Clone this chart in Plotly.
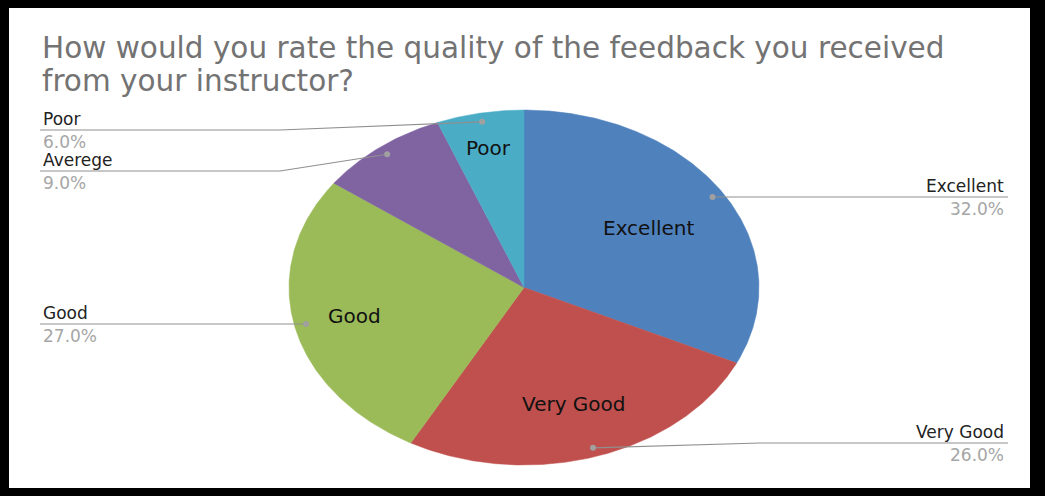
import numpy as np
import plotly.graph_objects as go

# Survey responses
categories = ["Excellent", "Very Good", "Good", "Averege", "Poor"]
shares = [32.0, 26.0, 27.0, 9.0, 6.0]

title_lines = [
    "How would you rate the quality of the feedback you received",
    "from your instructor?",
]

# Styling
slice_colors = ["#4f81bd", "#c0504d", "#9bbb59", "#8064a2", "#4bacc6"]
inside_label_radius = [0.63, 0.69, 0.74, None, 0.80]   # None: no label inside the slice
label_side = ["right", "right", "left", "left", "left"]
label_row_y = [197, 443, 324, 171, 130]                # y of the leader line under each label
elbow_x = [None, 760, None, 280, 280]                  # where the leader line turns horizontal

W, H = 1045, 496
CX, CY, RX, RY = 524, 287.5, 235, 177.5                # pie drawn as a horizontally stretched disc
LEFT_X, RIGHT_X = 40, 1008
FONT = "DejaVu Sans"
LINE_COLOR = "#8f8f8f"

total = sum(shares)
cum = np.concatenate([[0.0], np.cumsum(shares) / total])


def ellipse_point(t, r=1.0):
    """Point on the stretched pie at clockwise angle t (radians from 12 o'clock)."""
    return CX + r * RX * np.sin(t), CY - r * RY * np.cos(t)


fig = go.Figure()

# Pie slices
for i, cat in enumerate(categories):
    t = np.linspace(cum[i], cum[i + 1], 240) * 2 * np.pi
    ex, ey = ellipse_point(t)
    fig.add_trace(go.Scatter(
        x=np.concatenate([[CX], ex, [CX]]),
        y=np.concatenate([[CY], ey, [CY]]),
        mode="lines", fill="toself",
        fillcolor=slice_colors[i],
        line=dict(color=slice_colors[i], width=0.5),
        name=cat, hoverinfo="skip", showlegend=False,
    ))

annotations = []

# Labels inside the slices
for i, cat in enumerate(categories):
    r = inside_label_radius[i]
    if r is None:
        continue
    mid = (cum[i] + cum[i + 1]) / 2 * 2 * np.pi
    lx, ly = ellipse_point(mid, r)
    annotations.append(dict(
        x=lx, y=ly, text=cat, showarrow=False, xanchor="center", yanchor="middle",
        font=dict(family=FONT, size=20, color="#111111"),
    ))

# Leader lines, anchor dots and outside labels
for i, cat in enumerate(categories):
    mid = (cum[i] + cum[i + 1]) / 2 * 2 * np.pi
    dx, dy = ellipse_point(mid, 0.95)
    row = label_row_y[i]
    end_x = RIGHT_X if label_side[i] == "right" else LEFT_X
    px, py = [dx], [dy]
    if elbow_x[i] is not None:
        px.append(elbow_x[i]); py.append(row)
    else:
        py[0] = row
    px.append(end_x); py.append(row)
    fig.add_trace(go.Scatter(
        x=px, y=py, mode="lines", line=dict(color=LINE_COLOR, width=1.2),
        hoverinfo="skip", showlegend=False,
    ))
    fig.add_trace(go.Scatter(
        x=[px[0]], y=[py[0]], mode="markers",
        marker=dict(color="#a0a0a0", size=6), hoverinfo="skip", showlegend=False,
    ))
    anchor = "right" if label_side[i] == "right" else "left"
    text_x = end_x - 2 if anchor == "right" else end_x + 1
    annotations.append(dict(
        x=text_x, y=row - 11, text=cat, showarrow=False, xanchor=anchor, yanchor="middle",
        font=dict(family=FONT, size=17, color="#222222"),
    ))
    annotations.append(dict(
        x=text_x, y=row + 12, text=f"{shares[i] / total * 100:.1f}%", showarrow=False,
        xanchor=anchor, yanchor="middle",
        font=dict(family=FONT, size=17, color="#a6a6a6"),
    ))

# Title, two lines
for k, line in enumerate(title_lines):
    annotations.append(dict(
        x=LEFT_X, y=48 + 33 * k, text=line, showarrow=False, xanchor="left", yanchor="middle",
        font=dict(family=FONT, size=29.5, color="#737373"),
    ))

fig.update_layout(
    width=W, height=H,
    margin=dict(l=9, r=15, t=8, b=8),
    paper_bgcolor="#000000",
    plot_bgcolor="#ffffff",
    xaxis=dict(range=[9, 1030], visible=False, fixedrange=True),
    yaxis=dict(range=[488, 8], visible=False, fixedrange=True),
    annotations=annotations,
    showlegend=False,
)

fig.write_html("out.html")
